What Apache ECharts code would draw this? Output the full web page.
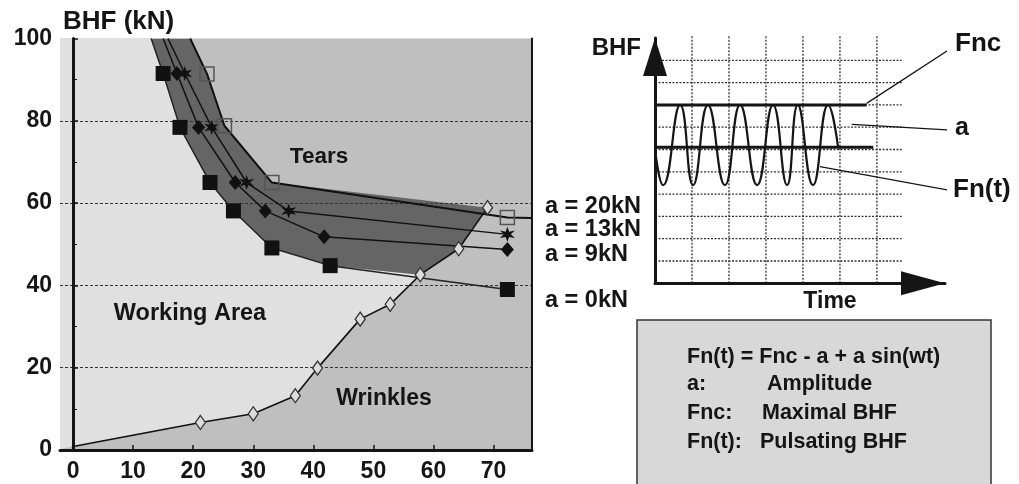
<!DOCTYPE html>
<html><head><meta charset="utf-8">
<script src="https://cdn.jsdelivr.net/npm/echarts@6/dist/echarts.min.js"></script>
<style>html,body{margin:0;padding:0;background:#fff}#c{width:1019px;height:484px}</style>
</head><body><div id="c"></div>
<script>
// ---------- left chart data (x, BHF kN) ----------
const xTicks = [0, 10, 20, 30, 40, 50, 60, 70];
const yTicks = [0, 20, 40, 60, 80, 100];
const a0  = [[13.0,100],[15.0,91.5],[17.8,78.4],[22.8,65.0],[26.7,58.1],[33.1,49.1],[42.8,44.8],[72.3,39.0]];
const a9  = [[15.0,100],[17.3,91.5],[20.9,78.4],[27.0,65.0],[32.0,58.1],[41.8,51.8],[72.3,48.7]];
const a13 = [[15.8,100],[18.6,91.5],[23.1,78.4],[28.9,65.0],[35.9,58.1],[72.3,52.4]];
const a20 = [[19.5,100],[22.3,91.4],[25.2,78.8],[33.1,65.0],[72.3,56.5],[76.4,56.4]];
const wrinkle = [[-0.2,0.8],[21.2,6.7],[30.0,8.8],[37.0,13.2],[40.7,19.9],[47.8,31.8],[52.8,35.4],[57.8,42.6],[64.2,48.9],[69.0,58.9]];
const seriesNames = ['a = 20kN','a = 13kN','a = 9kN','a = 0kN'];

// ---------- right schematic data ----------
const schemTimes = [1, 2, 3, 4, 5, 6];
const schemLevels = [1, 2, 3, 4, 5, 6, 7, 8, 9, 10];
const fncLine = [[0, 8], [5.72, 8]];
const midLine = [[0, 6.1], [5.9, 6.1]];
const sineT = [0, 0.22, 0.68, 1.03, 1.43, 1.89, 2.30, 2.76, 3.19, 3.57, 3.86, 4.27, 4.68, 4.95];
const sineF = [6.0, 4.4, 8.0, 4.4, 8.0, 4.4, 8.0, 4.4, 8.0, 4.4, 8.0, 4.4, 8.0, 6.1];
const leaderFnc = [[5.72, 8.07], [7.97, 10.5]];
const leaderA = [[5.32, 7.13], [7.97, 6.87]];
const leaderFn = [[4.46, 5.23], [7.93, 4.18]];

const FONT = "'Liberation Sans', Arial, sans-serif";
const INK = '#151515';

// region outlines built from the read curves
const workingPoly = [[-3, 0]].concat(wrinkle.filter(p => p[0] <= 58))
  .concat(a0.filter(p => p[0] < 50).slice().reverse()).concat([[-3, 100]]);
const bandPoly = a0.filter(p => p[0] < 50)
  .concat(wrinkle.filter(p => p[0] >= 57))
  .concat(a20.filter(p => p[0] < 50).slice().reverse());

function polySeries(name, pts, color) {
  return {
    type: 'custom', name, xAxisIndex: 0, yAxisIndex: 0, z: 1, clip: true, silent: true,
    data: [0],
    renderItem: (params, api) => ({
      type: 'polygon',
      shape: { points: pts.map(p => api.coord(p)) },
      style: { fill: color, stroke: null }
    })
  };
}

function lineSeries(name, pts, symbol, size, itemStyle, lineStyle, firstNone, lastNone) {
  return {
    type: 'line', name, xAxisIndex: 0, yAxisIndex: 0, z: 5,
    showAllSymbol: true, symbol, symbolSize: size,
    data: pts.map((p, i) => ((firstNone && i === 0) || (lastNone && i === pts.length - 1)) ? { value: p, symbol: 'none' } : p),
    itemStyle, lineStyle, animation: false, clip: true
  };
}

const starPath = 'path://M10 0 L12 6.54 L18.66 5 L14 10 L18.66 15 L12 13.46 L10 20 L8 13.46 L1.34 15 L6 10 L1.34 5 L8 6.54 Z';

const chart = echarts.init(document.getElementById('c'), null, { renderer: 'canvas' });

const schemGridSegs = schemTimes.map(t => [t, 0, t, 11.1]).concat(schemLevels.map(l => [0, l, 6.67, l]));

function txt(text, x, y, size, align) {
  return { type: 'text', z: 100, style: { text, x, y, font: 'bold ' + size + 'px ' + FONT, fill: INK, align: align || 'left', verticalAlign: 'middle', textAlign: align || 'left', textVerticalAlign: 'middle' } };
}

chart.setOption({
  animation: false,
  backgroundColor: '#ffffff',
  grid: [
    { left: 60, right: 487, top: 38.5, bottom: 34, show: true, backgroundColor: '#bfbfbf', borderWidth: 0 },
    { left: 655, right: 74, top: 38, bottom: 200.7, show: false }
  ],
  xAxis: [
    { type: 'value', gridIndex: 0, min: -2.17, max: 76.4, z: 3,
      axisLine: { show: true, lineStyle: { color: INK, width: 3 } },
      axisTick: { show: true, inside: true, length: 5, customValues: xTicks, lineStyle: { color: INK, width: 1.5 } },
      axisLabel: { customValues: xTicks, color: INK, fontSize: 23, fontWeight: 'bold', fontFamily: FONT, margin: 10 },
      splitLine: { show: false } },
    { type: 'value', gridIndex: 1, min: 0, max: 7.84, z: 3,
      axisLine: { show: true, symbol: ['none', 'triangle'], symbolSize: [24, 44], symbolOffset: [0, -22], lineStyle: { color: INK, width: 3 } },
      axisTick: { show: false }, axisLabel: { show: false }, splitLine: { show: false } }
  ],
  yAxis: [
    { type: 'value', gridIndex: 0, min: 0, max: 100, interval: 20, z: 3,
      axisLine: { show: true, lineStyle: { color: INK, width: 3 } },
      axisTick: { show: true, inside: true, length: 5, lineStyle: { color: INK, width: 1.5 } },
      minorTick: { show: true, splitNumber: 2, length: 4, lineStyle: { color: INK } },
      axisLabel: { color: INK, fontSize: 23, fontWeight: 'bold', fontFamily: FONT, margin: 8 },
      splitLine: { show: true, lineStyle: { color: ['#333', '#333', '#333', '#333', '#333', 'rgba(0,0,0,0)'], width: 1.2, type: [3, 2] } } },
    { type: 'value', gridIndex: 0, position: 'right', min: 0, max: 100, z: 3,
      axisLine: { show: true, lineStyle: { color: INK, width: 2 } },
      axisTick: { show: false }, axisLabel: { show: false }, splitLine: { show: false } },
    { type: 'value', gridIndex: 1, min: 0, max: 11, z: 3,
      axisLine: { show: true, symbol: ['none', 'triangle'], symbolSize: [24, 38], symbolOffset: [0, -19], lineStyle: { color: INK, width: 3 } },
      axisTick: { show: false }, axisLabel: { show: false }, splitLine: { show: false } }
  ],
  series: [
    polySeries('Working Area', workingPoly, '#e0e0e0'),
    polySeries('Band', bandPoly, '#656565'),
    lineSeries(seriesNames[3], a0, 'rect', 15, { color: '#111' }, { color: '#222', width: 1.5 }, true, false),
    lineSeries(seriesNames[2], a9, 'diamond', [13, 15], { color: '#111' }, { color: '#111', width: 1.5 }, true, false),
    lineSeries(seriesNames[1], a13, starPath, 15, { color: '#111' }, { color: '#111', width: 1.5 }, true, false),
    lineSeries(seriesNames[0], a20, 'rect', 14, { color: 'rgba(0,0,0,0)', borderColor: '#555', borderWidth: 1.5 }, { color: '#111', width: 2 }, true, true),
    lineSeries('Wrinkles', wrinkle, 'diamond', [10, 14], { color: '#dcdcdc', borderColor: '#333', borderWidth: 1.3 }, { color: '#111', width: 1.6 }, true, false),
    // schematic
    { type: 'custom', name: 'schem-grid', xAxisIndex: 1, yAxisIndex: 2, z: 1, clip: false, silent: true,
      data: schemGridSegs,
      renderItem: (params, api) => {
        const p1 = api.coord([api.value(0), api.value(1)]);
        const p2 = api.coord([api.value(2), api.value(3)]);
        return { type: 'line', shape: { x1: p1[0], y1: p1[1], x2: p2[0], y2: p2[1] }, style: { stroke: '#333', lineWidth: 1.3, lineDash: [2, 1.5] } };
      } },
    { type: 'line', name: 'Fnc', xAxisIndex: 1, yAxisIndex: 2, z: 5, symbol: 'none', data: fncLine, lineStyle: { color: INK, width: 3 }, clip: false },
    { type: 'line', name: 'Fnc-a', xAxisIndex: 1, yAxisIndex: 2, z: 5, symbol: 'none', data: midLine, lineStyle: { color: INK, width: 3 }, clip: false },
    { type: 'line', name: 'Fn(t)', xAxisIndex: 1, yAxisIndex: 2, z: 5, symbol: 'none', smooth: 0.5, data: sineT.map((t, i) => [t, sineF[i]]), lineStyle: { color: INK, width: 2.2 }, clip: false },
    { type: 'line', name: 'lf1', xAxisIndex: 1, yAxisIndex: 2, z: 5, symbol: 'none', data: leaderFnc, lineStyle: { color: INK, width: 1.3 }, clip: false },
    { type: 'line', name: 'lf2', xAxisIndex: 1, yAxisIndex: 2, z: 5, symbol: 'none', data: leaderA, lineStyle: { color: INK, width: 1.3 }, clip: false },
    { type: 'line', name: 'lf3', xAxisIndex: 1, yAxisIndex: 2, z: 5, symbol: 'none', data: leaderFn, lineStyle: { color: INK, width: 1.3 }, clip: false }
  ],
  graphic: [
    txt('BHF (kN)', 63, 22, 26),
    txt('Tears', 319, 157, 22.5, 'center'),
    txt('Working Area', 190, 314, 23.5, 'center'),
    txt('Wrinkles', 384, 399, 23, 'center'),
    txt('BHF', 641, 48, 24, 'right'),
    txt('Fnc', 955, 44, 26),
    txt('a', 955, 128, 25),
    txt('Fn(t)', 953, 190, 26),
    txt(seriesNames[0], 545, 207, 23.5),
    txt(seriesNames[1], 545, 230, 23.5),
    txt(seriesNames[2], 545, 255, 23.5),
    txt(seriesNames[3], 545, 301, 23.5),
    txt('Time', 830, 302, 23, 'center'),
    { type: 'rect', z: 50, shape: { x: 637, y: 320, width: 354, height: 180 }, style: { fill: '#d8d8d8', stroke: '#333', lineWidth: 1.5 } },
    txt('Fn(t) = Fnc - a + a sin(wt)', 687, 357, 21.5),
    txt('a:', 687, 384, 21.5),
    txt('Amplitude', 767, 384, 21.5),
    txt('Fnc:', 687, 413, 21.5),
    txt('Maximal BHF', 762, 413, 21.5),
    txt('Fn(t):', 687, 442, 21.5),
    txt('Pulsating BHF', 760, 442, 21.5)
  ]
});
</script></body></html>
